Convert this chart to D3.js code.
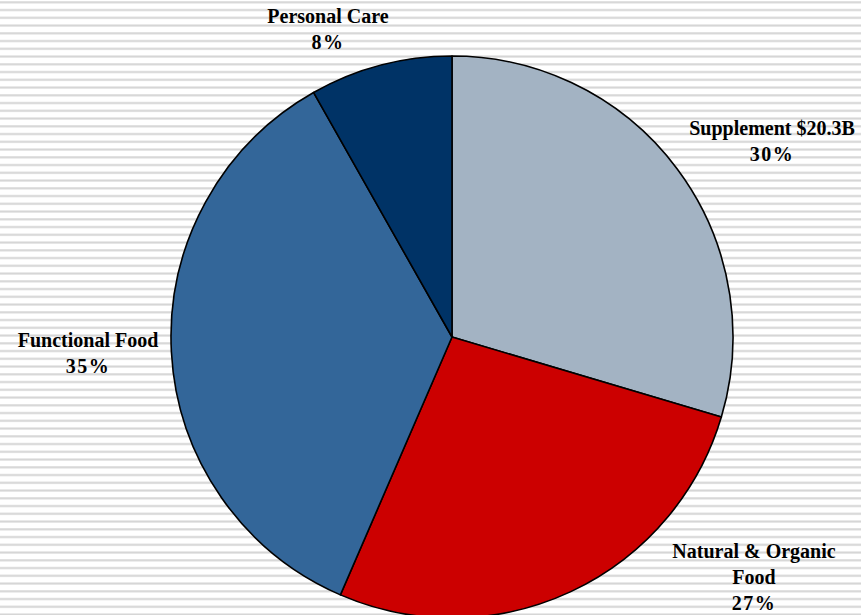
<!DOCTYPE html>
<html>
<head>
<meta charset="utf-8">
<script src="https://cdn.jsdelivr.net/npm/d3@7"></script>
<style>
  html, body { margin: 0; padding: 0; background: #fff; }
  svg { display: block; }
  .lbl { font-family: "Liberation Serif", "Times New Roman", serif; font-weight: bold; font-size: 20px; fill: #000; }
</style>
</head>
<body>
<svg id="chart" width="861" height="615"></svg>
<script>
// slices, clockwise from 12 o'clock
let categories = ["Supplement", "Natural & Organic Food", "Functional Food", "Personal Care"]
let shares = [29.6, 26.9, 35.3, 8.2]
let labelLines = [
  ["Supplement $20.3B", "30%"],
  ["Natural & Organic", "Food", "27%"],
  ["Functional Food", "35%"],
  ["Personal Care", "8%"]
]
let colors = ["#a3b3c3", "#cc0000", "#336699", "#003366"]

let width = 861, height = 615
let cx = 452, cy = 337, r = 281

let svg = d3.select("#chart")

// striped backdrop
let stripes = d3.range(0, height, 7.75)
svg.append("g").selectAll("rect")
  .data(stripes)
  .enter().append("rect")
    .attr("x", 0).attr("y", d => d + 1)
    .attr("width", width).attr("height", 2.6)
    .style("fill", "#e2e2e2")
svg.append("g").selectAll("rect")
  .data(stripes)
  .enter().append("rect")
    .attr("x", 0).attr("y", d => d + 1.9)
    .attr("width", width).attr("height", 0.8)
    .style("fill", "#d4d4d4")

let data = categories.map((c, i) => ({ name: c, value: shares[i], color: colors[i], lines: labelLines[i] }))

let pie = d3.pie().sort(null).value(d => d.value)
let arc = d3.arc().innerRadius(0).outerRadius(r)

let g = svg.append("g").attr("transform", `translate(${cx},${cy})`)

g.selectAll("path")
  .data(pie(data))
  .enter().append("path")
    .attr("d", arc)
    .style("fill", d => d.data.color)
    .style("stroke", "#000")
    .style("stroke-width", 1.6)
    .style("stroke-linejoin", "round")

// label anchors (centre x, first baseline y), placed outside the pie
let labelPos = [
  [772, 135],
  [754, 558],
  [88, 347],
  [328, 23]
]
let lineGap = 26

let labels = svg.append("g").selectAll("text")
  .data(data)
  .enter().append("text")
    .attr("class", "lbl")
    .attr("text-anchor", "middle")

labels.each(function (d, i) {
  let t = d3.select(this)
  d.lines.forEach((line, k) => {
    t.append("tspan")
      .attr("x", labelPos[i][0])
      .attr("y", labelPos[i][1] + k * lineGap)
      .style("letter-spacing", line.endsWith("%") ? "1.5px" : null)
      .text(line)
  })
})
</script>
</body>
</html>
